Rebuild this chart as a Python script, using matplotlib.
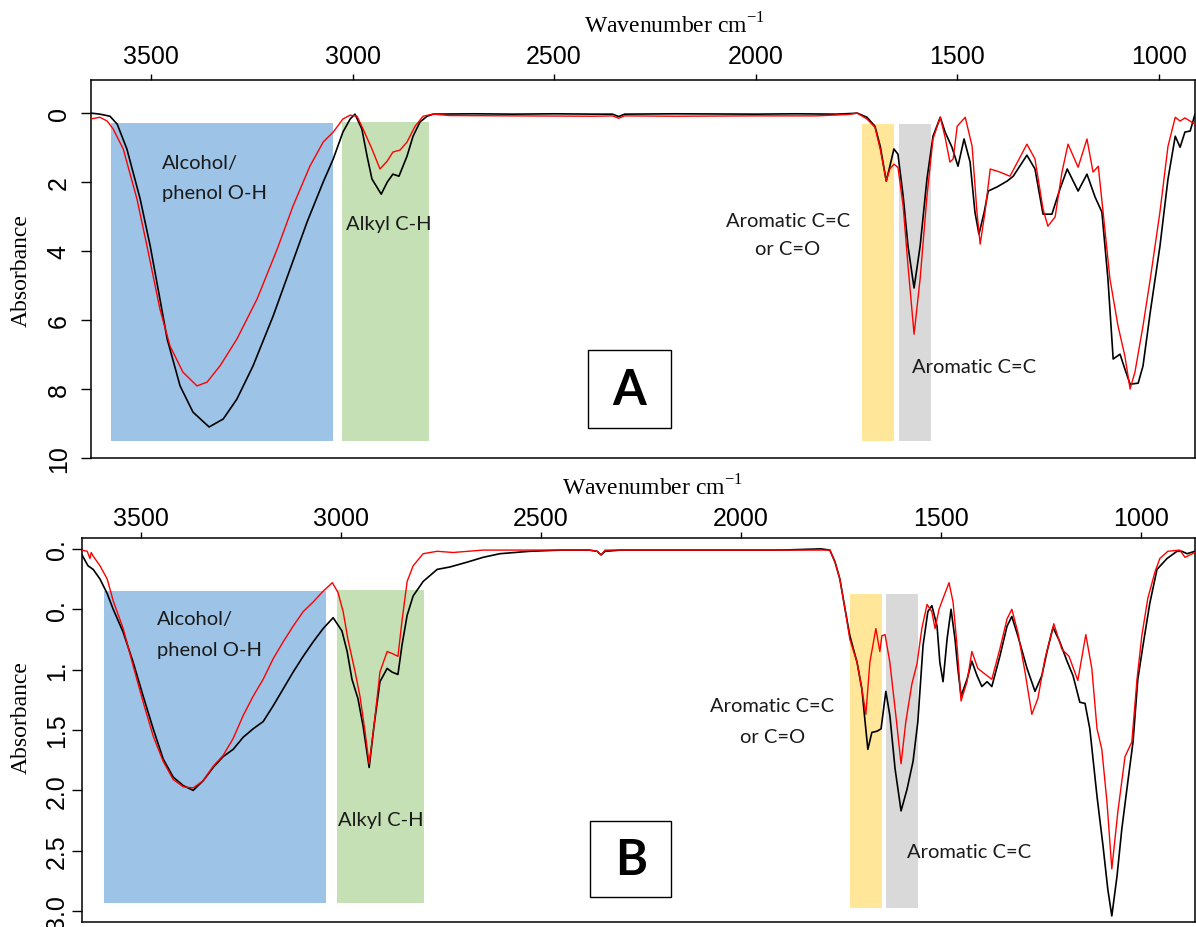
import matplotlib

matplotlib.use("Agg")
import matplotlib.pyplot as plt
from matplotlib.patches import Rectangle

plt.rcParams["mathtext.fontset"] = "custom"
plt.rcParams["mathtext.rm"] = "Liberation Serif"

# ---- spectra, panel A (wavenumber cm-1, absorbance) ----
a_black_wn = [3649, 3627, 3602, 3584, 3560, 3527, 3502, 3478, 3460, 3428, 3396, 3356,
              3321, 3287, 3247, 3197, 3155, 3113, 3073, 3048, 3024, 3006, 2994, 2977,
              2964, 2952, 2929, 2914, 2900, 2885, 2865, 2850, 2833, 2815, 2800, 2700,
              2600, 2500, 2400, 2355, 2340, 2325, 2200, 2000, 1900, 1800, 1760, 1748,
              1724, 1704, 1691, 1676, 1667, 1657, 1647, 1634, 1622, 1607, 1592, 1575,
              1560, 1542, 1530, 1513, 1498, 1483, 1468, 1456, 1446, 1433, 1423, 1401,
              1376, 1361, 1327, 1307, 1287, 1265, 1245, 1227, 1200, 1178, 1158, 1141,
              1126, 1113, 1096, 1084, 1071, 1051, 1039, 1021, 997, 977, 959, 947, 935,
              922, 910]
a_black_abs = [0.00, 0.03, 0.09, 0.32, 1.04, 2.49, 3.86, 5.39, 6.55, 7.91, 8.67, 9.10,
               8.87, 8.29, 7.33, 5.88, 4.52, 3.16, 2.00, 1.33, 0.55, 0.17, 0.03, 0.46,
               1.25, 1.91, 2.35, 2.00, 1.77, 1.83, 1.25, 0.67, 0.26, 0.09, 0.03, 0.02,
               0.03, 0.02, 0.03, 0.03, 0.10, 0.03, 0.02, 0.03, 0.02, 0.03, 0.01, 0.00,
               0.12, 0.38, 0.96, 1.97, 1.54, 1.04, 1.19, 2.41, 3.86, 5.07, 3.86, 1.91,
               0.67, 0.12, 0.55, 0.99, 1.54, 0.75, 1.42, 2.87, 3.51, 2.87, 2.26, 2.14,
               1.97, 1.83, 1.22, 1.62, 2.93, 2.93, 2.20, 1.62, 2.26, 1.77, 2.43, 2.87,
               4.81, 7.13, 6.99, 7.42, 7.86, 7.83, 7.33, 5.77, 3.86, 1.91, 0.67, 0.99,
               0.55, 0.52, 0.03]

a_red_wn = [3649, 3627, 3609, 3594, 3569, 3535, 3510, 3478, 3453, 3421, 3386, 3361,
            3329, 3287, 3237, 3187, 3148, 3106, 3073, 3048, 3024, 3006, 2989, 2974,
            2952, 2932, 2914, 2900, 2882, 2865, 2845, 2825, 2800, 2760, 2600, 2400,
            2355, 2340, 2325, 2200, 2000, 1850, 1770, 1748, 1724, 1704, 1691, 1676,
            1667, 1657, 1647, 1634, 1622, 1607, 1592, 1575, 1560, 1542, 1530, 1518,
            1510, 1500, 1480, 1463, 1451, 1443, 1431, 1418, 1394, 1369, 1327, 1307,
            1287, 1275, 1257, 1240, 1225, 1200, 1178, 1163, 1150, 1138, 1121, 1101,
            1084, 1071, 1059, 1039, 1021, 997, 977, 959, 947, 935, 910]
a_red_abs = [0.17, 0.12, 0.23, 0.46, 1.04, 2.49, 3.86, 5.68, 6.75, 7.51, 7.91, 7.80,
             7.33, 6.55, 5.39, 3.94, 2.70, 1.54, 0.84, 0.55, 0.17, 0.06, 0.09, 0.46,
             1.04, 1.62, 1.39, 1.13, 1.07, 0.84, 0.38, 0.09, 0.03, 0.07, 0.08, 0.09,
             0.08, 0.15, 0.08, 0.09, 0.08, 0.08, 0.04, 0.00, 0.17, 0.41, 1.04, 1.97,
             1.62, 1.48, 1.57, 2.70, 4.43, 6.41, 4.81, 2.41, 0.75, 0.12, 0.70, 1.42,
             1.33, 0.38, 0.12, 0.96, 2.87, 3.80, 2.87, 1.62, 1.71, 1.83, 0.90, 1.33,
             2.78, 3.28, 3.01, 1.71, 0.90, 1.57, 0.75, 1.71, 1.54, 2.87, 4.81, 6.17,
             7.04, 8.00, 7.51, 6.17, 4.81, 2.87, 0.96, 0.12, 0.23, 0.14, 0.32]

# ---- spectra, panel B ----
b_black_wn = [3648, 3633, 3620, 3603, 3585, 3570, 3545, 3520, 3495, 3470, 3445, 3420,
              3395, 3370, 3345, 3320, 3295, 3270, 3245, 3220, 3195, 3170, 3145, 3120,
              3095, 3070, 3045, 3020, 2998, 2985, 2973, 2958, 2945, 2930, 2918, 2903,
              2885, 2873, 2858, 2848, 2835, 2820, 2795, 2760, 2728, 2685, 2645, 2603,
              2528, 2450, 2380, 2360, 2350, 2340, 2300, 2100, 1900, 1800, 1778, 1765,
              1753, 1740, 1728, 1710, 1698, 1690, 1683, 1673, 1660, 1650, 1638, 1628,
              1615, 1600, 1585, 1570, 1558, 1545, 1533, 1523, 1510, 1503, 1495, 1485,
              1475, 1465, 1458, 1450, 1435, 1423, 1410, 1398, 1385, 1373, 1353, 1335,
              1323, 1308, 1285, 1265, 1248, 1235, 1220, 1203, 1185, 1170, 1153, 1140,
              1128, 1110, 1095, 1083, 1073, 1060, 1048, 1033, 1020, 1008, 995, 978,
              960, 935, 910, 898, 885, 865]
b_black_abs = [0.05, 0.14, 0.17, 0.25, 0.37, 0.50, 0.69, 0.94, 1.22, 1.49, 1.74, 1.89,
               1.96, 2.00, 1.92, 1.81, 1.72, 1.66, 1.56, 1.49, 1.43, 1.30, 1.16, 1.02,
               0.89, 0.77, 0.66, 0.57, 0.68, 0.85, 1.08, 1.24, 1.47, 1.81, 1.47, 1.10,
               0.99, 1.02, 1.04, 0.80, 0.55, 0.39, 0.27, 0.17, 0.15, 0.11, 0.07, 0.04,
               0.02, 0.01, 0.01, 0.02, 0.05, 0.02, 0.01, 0.01, 0.01, 0.00, 0.01, 0.11,
               0.25, 0.50, 0.72, 0.94, 1.16, 1.43, 1.66, 1.52, 1.51, 1.49, 1.18, 1.38,
               1.82, 2.17, 1.99, 1.76, 1.43, 0.80, 0.52, 0.47, 0.64, 0.94, 1.10, 0.75,
               0.50, 0.75, 0.99, 1.22, 1.08, 0.93, 1.05, 1.14, 1.10, 1.14, 0.89, 0.64,
               0.56, 0.72, 0.99, 1.18, 1.05, 0.85, 0.65, 0.77, 0.93, 1.05, 1.27, 1.28,
               1.49, 2.05, 2.46, 2.82, 3.04, 2.71, 2.32, 1.93, 1.60, 1.08, 0.80, 0.45,
               0.17, 0.08, 0.02, 0.02, 0.04, 0.02]

b_red_wn = [3648, 3635, 3628, 3625, 3620, 3603, 3585, 3570, 3545, 3520, 3495, 3470,
            3445, 3420, 3395, 3370, 3345, 3320, 3295, 3270, 3245, 3220, 3195, 3170,
            3145, 3120, 3095, 3070, 3045, 3022, 3008, 2995, 2983, 2965, 2953, 2940,
            2930, 2918, 2903, 2885, 2870, 2858, 2848, 2835, 2820, 2795, 2760, 2720,
            2645, 2500, 2380, 2360, 2350, 2340, 2200, 2000, 1850, 1778, 1765, 1753,
            1740, 1728, 1710, 1698, 1688, 1678, 1663, 1653, 1648, 1640, 1628, 1613,
            1600, 1588, 1573, 1560, 1548, 1535, 1523, 1515, 1505, 1495, 1480, 1470,
            1460, 1450, 1435, 1423, 1408, 1385, 1373, 1353, 1335, 1323, 1308, 1290,
            1273, 1258, 1240, 1218, 1198, 1180, 1158, 1138, 1123, 1110, 1098, 1085,
            1073, 1058, 1040, 1023, 1010, 998, 983, 965, 953, 933, 903, 890, 865]
b_red_abs = [0.01, 0.02, 0.08, 0.03, 0.06, 0.14, 0.25, 0.43, 0.66, 0.97, 1.27, 1.55,
             1.76, 1.91, 1.97, 1.98, 1.92, 1.80, 1.71, 1.57, 1.38, 1.22, 1.08, 0.91,
             0.77, 0.64, 0.52, 0.44, 0.35, 0.28, 0.36, 0.52, 0.75, 1.02, 1.22, 1.52,
             1.78, 1.47, 1.02, 0.85, 0.87, 0.89, 0.60, 0.27, 0.14, 0.04, 0.02, 0.03,
             0.01, 0.01, 0.01, 0.02, 0.05, 0.01, 0.01, 0.01, 0.01, 0.01, 0.11, 0.25,
             0.50, 0.75, 0.94, 1.16, 1.37, 0.94, 0.66, 0.85, 0.72, 0.71, 0.94, 1.38,
             1.78, 1.43, 1.12, 0.95, 0.66, 0.46, 0.52, 0.66, 0.50, 0.41, 0.28, 0.44,
             0.80, 1.26, 1.10, 0.85, 0.99, 1.05, 1.08, 0.83, 0.58, 0.50, 0.69, 1.02,
             1.37, 1.24, 0.91, 0.62, 0.83, 0.89, 1.09, 0.71, 0.99, 1.49, 1.66, 2.10,
             2.65, 2.18, 1.72, 1.60, 1.08, 0.72, 0.41, 0.19, 0.08, 0.02, 0.01, 0.07,
             0.03]

# ---- shaded assignment bands (wavenumber ranges) ----
band_colors = ["#9DC3E6", "#C5E0B4", "#FFE699", "#D9D9D9"]
a_band_hi = [3599, 3026, 1736, 1644]
a_band_lo = [3048, 2810, 1656, 1565]
b_band_hi = [3592, 3010, 1728, 1638]
b_band_lo = [3037, 2792, 1648, 1558]

a_yticks = [0, 2, 4, 6, 8, 10]
a_ylabels = ["0", "2", "4", "6", "8", "10"]
b_yticks = [0, 0.5, 1.0, 1.5, 2.0, 2.5, 3.0]
b_ylabels = ["0.", "0.", "1.", "1.5", "2.0", "2.5", "3.0"]
xticks = [3500, 3000, 2500, 2000, 1500, 1000]

W, H = 1196, 928
fig = plt.figure(figsize=(W / 100, H / 100), dpi=100)
ax_a = fig.add_axes([91 / W, 1 - 459 / H, 1104 / W, 378 / H])
ax_b = fig.add_axes([82 / W, 1 - 923 / H, 1113 / W, 384 / H])

ann_font = dict(family="Lato", fontsize=14.5, color="#1a1a1a")
serif = dict(family="Liberation Serif", fontsize=17)
line_kw = dict(solid_joinstyle="round", solid_capstyle="round")


def style_axis(ax, xlim, ylim, yticks, ylabels, ytick_pad, xtick_pad):
    ax.set_xlim(*xlim)
    ax.set_ylim(*ylim)
    ax.xaxis.tick_top()
    ax.set_xticks(xticks)
    ax.set_xticklabels([str(t) for t in xticks], family="Liberation Sans", fontsize=18)
    ax.set_yticks(yticks)
    ax.set_yticklabels(ylabels, family="Liberation Sans", fontsize=18,
                       rotation=90, va="center")
    ax.tick_params(axis="x", length=4, width=1, pad=xtick_pad, direction="out")
    ax.tick_params(axis="y", length=7.5, width=1, pad=ytick_pad, direction="out")
    for s in ax.spines.values():
        s.set_linewidth(1.1)


def draw_bands(ax, hi, lo, y0, y1):
    for h, l, c, a, b in zip(hi, lo, band_colors, y0, y1):
        ax.add_patch(Rectangle((h, a), l - h, b - a, facecolor=c, edgecolor="none", zorder=1))


# panel A
draw_bands(ax_a, a_band_hi, a_band_lo, [0.29, 0.26, 0.32, 0.32], [9.51, 9.51, 9.51, 9.51])
ax_a.plot(a_black_wn, a_black_abs, color="black", lw=1.2, zorder=3, **line_kw)
ax_a.plot(a_red_wn, a_red_abs, color="#ff0000", lw=1.0, zorder=4, **line_kw)
style_axis(ax_a, (3649, 910), (10, -0.96), a_yticks, a_ylabels, 7, 5)

ax_a.text(3473, 1.42, "Alcohol/", va="center", **ann_font)
ax_a.text(3473, 2.29, "phenol O-H", va="center", **ann_font)
ax_a.text(3016, 3.19, "Alkyl C-H", va="center", **ann_font)
ax_a.text(1920, 3.10, "Aromatic C=C", ha="center", va="center", **ann_font)
ax_a.text(1920, 3.94, "or C=O", ha="center", va="center", **ann_font)
ax_a.text(1612, 7.36, "Aromatic C=C", va="center", **ann_font)
ax_a.add_patch(Rectangle((2416, 6.87), 2210 - 2416, 9.13 - 6.87, facecolor="white",
                         edgecolor="black", lw=1, zorder=5))
ax_a.text(2313, 8.0, "A", ha="center", va="center", family="Lato", fontweight="bold",
          fontsize=35, zorder=6)

# panel B
draw_bands(ax_b, b_band_hi, b_band_lo, [0.35, 0.34, 0.37, 0.37], [2.93, 2.93, 2.97, 2.97])
ax_b.plot(b_black_wn, b_black_abs, color="black", lw=1.2, zorder=3, **line_kw)
ax_b.plot(b_red_wn, b_red_abs, color="#ff0000", lw=1.0, zorder=4, **line_kw)
style_axis(ax_b, (3648, 865), (3.09, -0.09), b_yticks, b_ylabels, 2, 1.5)

ax_b.text(3460, 0.58, "Alcohol/", va="center", **ann_font)
ax_b.text(3460, 0.83, "phenol O-H", va="center", **ann_font)
ax_b.text(3008, 2.24, "Alkyl C-H", va="center", **ann_font)
ax_b.text(1922, 1.30, "Aromatic C=C", ha="center", va="center", **ann_font)
ax_b.text(1922, 1.55, "or C=O", ha="center", va="center", **ann_font)
ax_b.text(1585, 2.51, "Aromatic C=C", va="center", **ann_font)
ax_b.add_patch(Rectangle((2378, 2.25), 2175 - 2378, 2.88 - 2.25, facecolor="white",
                         edgecolor="black", lw=1, zorder=5))
ax_b.text(2276, 2.57, "B", ha="center", va="center", family="Lato", fontweight="bold",
          fontsize=35, zorder=6)

# axis titles
fig.text(674 / W, 1 - 26 / H, r"Wavenumber cm$^{\mathregular{-1}}$", ha="center",
         va="center", **serif)
fig.text(652 / W, 1 - 488 / H, r"Wavenumber cm$^{\mathregular{-1}}$", ha="center",
         va="center", **serif)
fig.text(21 / W, 1 - 271 / H, "Absorbance", rotation=90, ha="center", va="center", **serif)
fig.text(21 / W, 1 - 718 / H, "Absorbance", rotation=90, ha="center", va="center", **serif)

fig.savefig("out.png", dpi=100)
